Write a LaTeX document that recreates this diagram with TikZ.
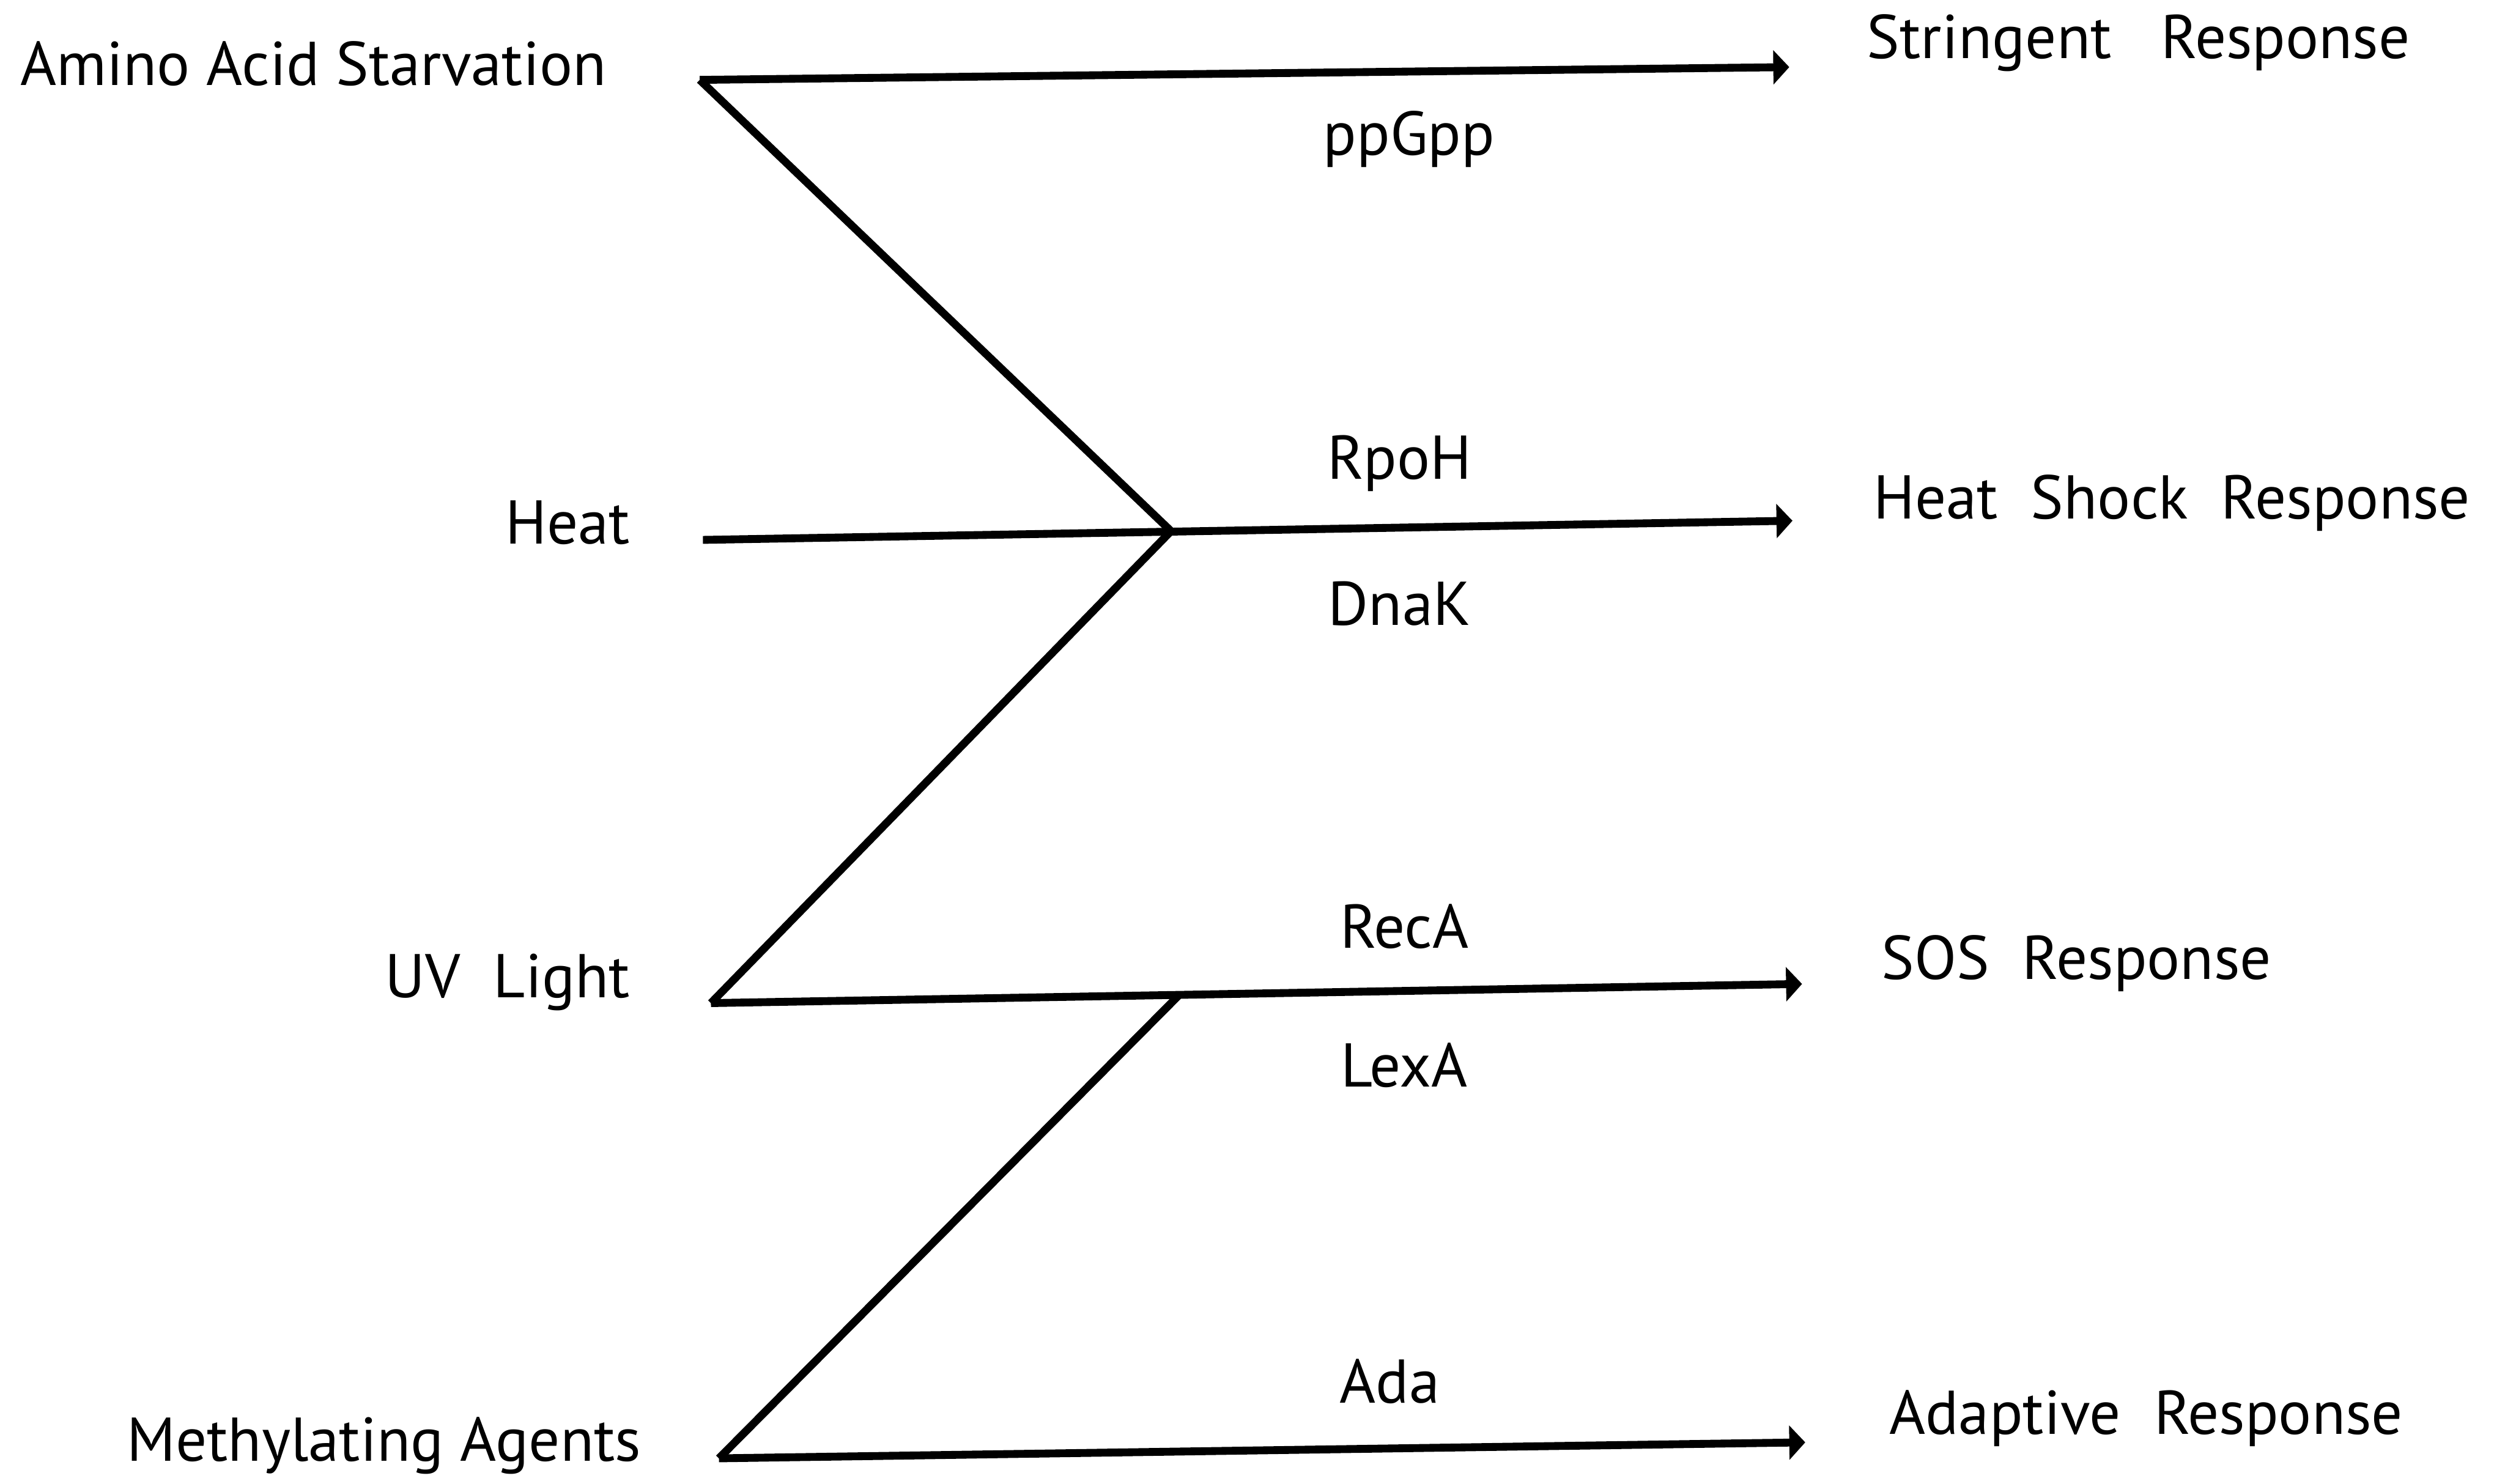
\documentclass[tikz,border=0pt]{standalone}
\usepackage{fontspec}
\setmainfont{PT Sans}
\usetikzlibrary{arrows.meta}
\tikzset{
  signal/.style={line width=1.4pt},
  response/.style={signal,-{Triangle[length=1mm,width=2.1mm]}},
  lbl/.style={inner sep=0pt,font=\fontsize{11}{13}\selectfont},
}
\begin{document}
\begin{tikzpicture}[x=0.01cm,y=-0.01cm]
          \useasboundingbox (0,0) rectangle (1568,929);
          % stimuli
          \node[lbl,anchor=west] (aa) at (12,40) {Amino\ Acid\ Starvation};
          \node[lbl,anchor=east] (heat) at (395,327) {Heat};
          \node[lbl,anchor=east] (uv) at (395,615) {UV\ \ Light};
          \node[lbl,anchor=east] (meth) at (402,905) {Methylating\ Agents};
          % responses
          \node[lbl,anchor=west] (str) at (1168,27) {Stringent\ \ \ Response};
          \node[lbl,anchor=west] (hsr) at (1172,315) {Heat\ \ Shock\ \ Response};
          \node[lbl,anchor=west] (sos) at (1177,603) {SOS\ \ Response};
          \node[lbl,anchor=west] (adr) at (1182,888) {Adaptive\ \ Response};
          % regulators
          \node[lbl] (ppgpp) at (882,87) {ppGpp};
          \node[lbl] (rpoh) at (876,290) {RpoH};
          \node[lbl] (dnak) at (876,378) {DnaK};
          \node[lbl] (reca) at (879,580) {RecA};
          \node[lbl] (lexa) at (879,667) {LexA};
          \node[lbl] (ada) at (870,865) {Ada};

          \coordinate (s1) at (438,50);
          \coordinate (e1) at (1120,42);
          \coordinate (s2) at (440,338);
          \coordinate (j2) at (733,332.5);
          \coordinate (e2) at (1122,326);
          \coordinate (s3) at (445,628);
          \coordinate (j3) at (738,623);
          \coordinate (e3) at (1128,616);
          \coordinate (s4) at (450,913);
          \coordinate (e4) at (1130,903);

          \draw[response] (s1) -- (e1);
          \draw[response] (s2) -- (e2);
          \draw[response] (s3) -- (e3);
          \draw[response] (s4) -- (e4);
          \draw[signal,line join=miter] (s1) -- (j2) -- (s3);
          \draw[signal] (j3) -- (s4);
        \end{tikzpicture}
\end{document}
